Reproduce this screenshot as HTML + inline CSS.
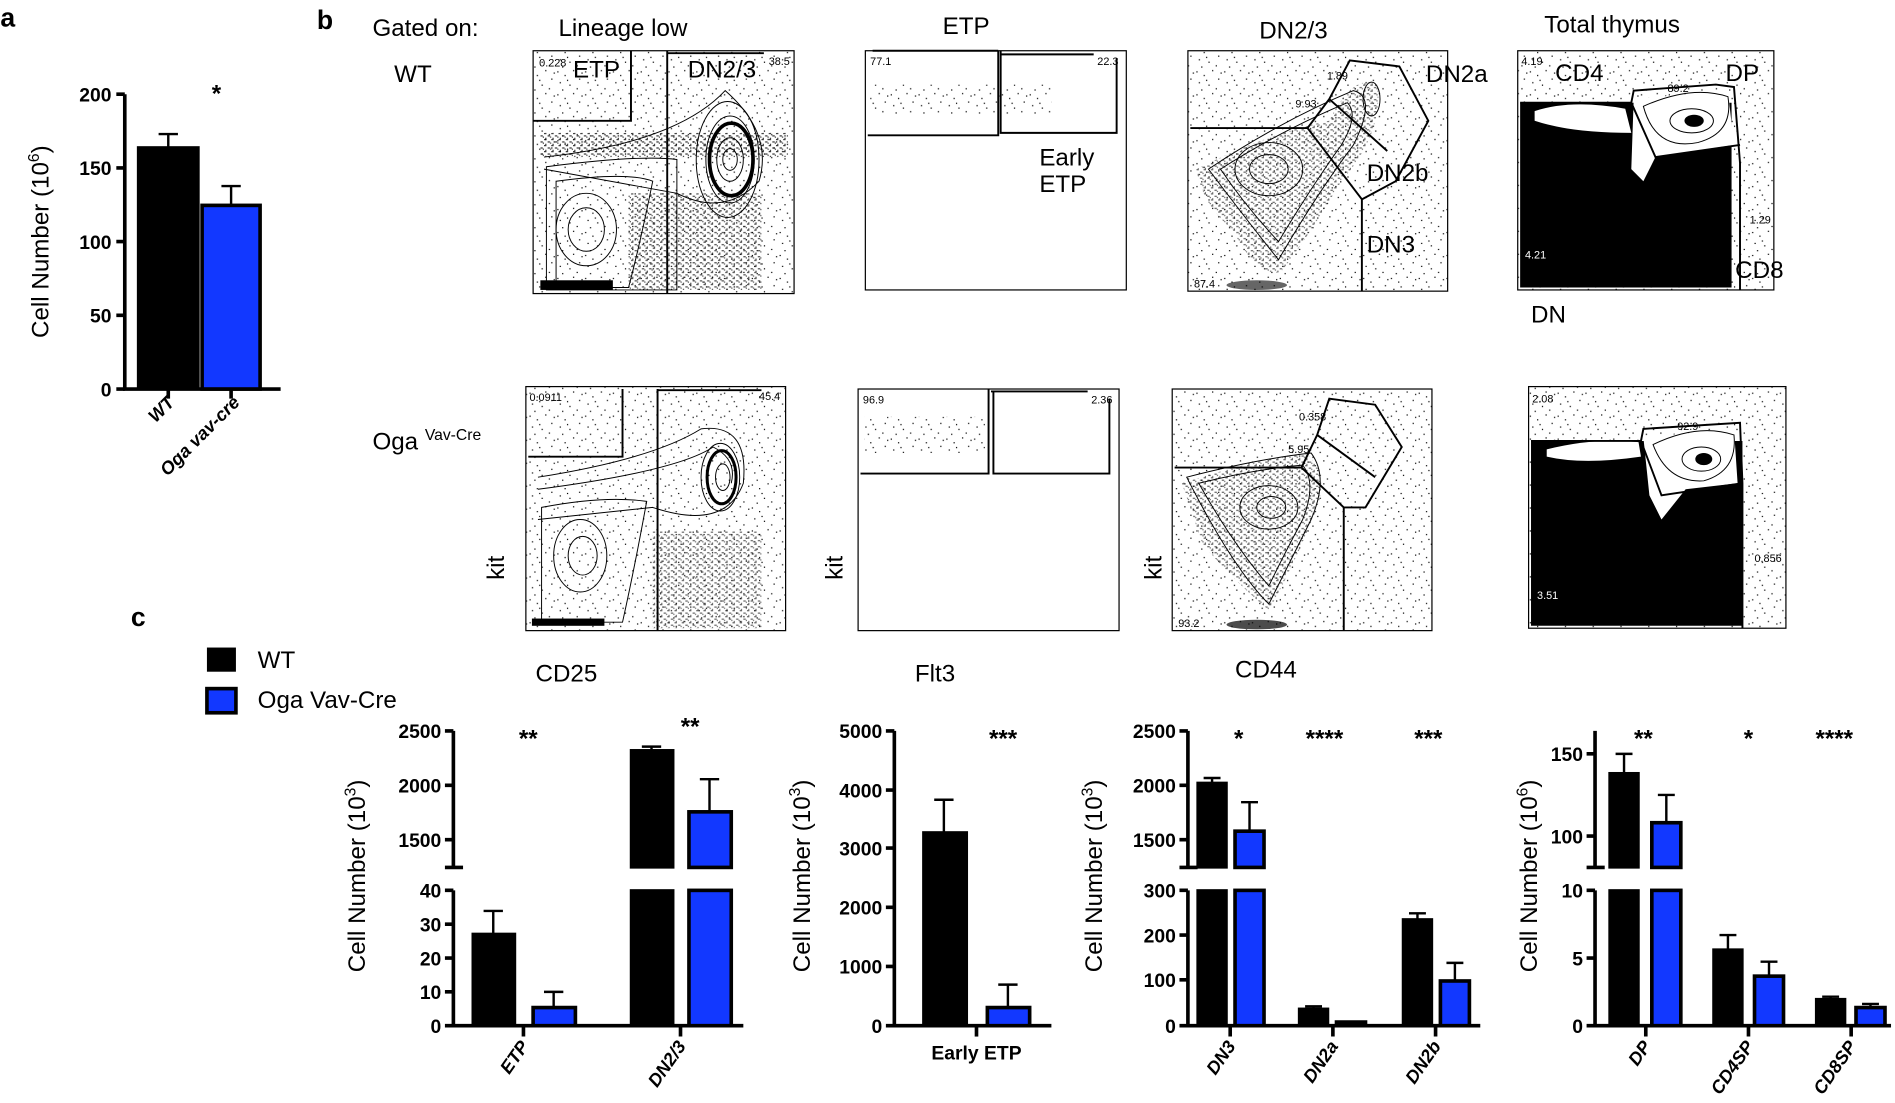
<!DOCTYPE html>
<html><head><meta charset="utf-8"><style>
html,body{margin:0;padding:0;background:#fff;width:1895px;height:1103px;overflow:hidden}
svg{display:block}
text{font-family:"Liberation Sans",sans-serif;fill:#000}
.tk{font-family:"Liberation Sans Narrow","Liberation Sans",sans-serif;font-weight:bold;font-size:16px}
.xl{font-family:"Liberation Sans",sans-serif;font-weight:bold;font-style:italic;font-size:15px}
.gl{font-family:"Liberation Sans Narrow","Liberation Sans",sans-serif;font-size:20px}
.sm{font-family:"Liberation Sans Narrow","Liberation Sans",sans-serif;font-size:9px}
.ax{stroke:#000;stroke-width:3;fill:none}
.bk{fill:#000;stroke:#000;stroke-width:2}
.bl{fill:#1238ff;stroke:#000;stroke-width:3}
.er{stroke:#000;stroke-width:2;fill:none}
.box{fill:none;stroke:#000;stroke-width:1}
.gate{fill:none;stroke:#000;stroke-width:1.6}
.ct{fill:none;stroke:#000;stroke-width:0.8}
</style></head><body>
<svg width="1895" height="1103" viewBox="0 0 1568 913" xmlns="http://www.w3.org/2000/svg">
<defs>
<pattern id="dots" width="23" height="19" patternUnits="userSpaceOnUse">
<rect x="1" y="2" width="1" height="1"/><rect x="7" y="5" width="1" height="1"/><rect x="14" y="1" width="1" height="1"/><rect x="19" y="8" width="1" height="1"/><rect x="3" y="11" width="1" height="1"/><rect x="11" y="13" width="1" height="1"/><rect x="17" y="16" width="1" height="1"/><rect x="5" y="17" width="1" height="1"/><rect x="21" y="3" width="1" height="1"/><rect x="9" y="9" width="1" height="1"/>
</pattern>
<pattern id="dense" width="6" height="5" patternUnits="userSpaceOnUse">
<rect x="0" y="0" width="2" height="1"/><rect x="3" y="2" width="2" height="1"/><rect x="1" y="4" width="1" height="1"/><rect x="5" y="3" width="1" height="1"/>
</pattern>
</defs>

<!-- Panel a -->
<text x="0" y="22" font-size="22" font-weight="bold">a</text>
<text x="175" y="84" font-size="20" font-weight="bold">*</text>
<path class="ax" d="M103 78 V322 H232"/>
<path class="ax" d="M96 78H103M96 139H103M96 200H103M96 261H103M96 322H103"/>
<text class="tk" x="92" y="84" text-anchor="end">200</text>
<text class="tk" x="92" y="145" text-anchor="end">150</text>
<text class="tk" x="92" y="206" text-anchor="end">100</text>
<text class="tk" x="92" y="267" text-anchor="end">50</text>
<text class="tk" x="92" y="328" text-anchor="end">0</text>
<path class="er" d="M139 122V111M131 111H147M191 170V154M183 154H199"/>
<rect class="bk" x="114" y="122" width="50" height="200"/>
<rect class="bl" x="167" y="170" width="48" height="152"/>
<path class="ax" d="M139 322V330M191 322V330"/>
<text x="40" y="200" font-size="20" text-anchor="middle" transform="rotate(-90 40 200)">Cell Number (10<tspan font-size="13" dy="-8">6</tspan><tspan dy="8">)</tspan></text>
<text class="xl" x="145" y="334" text-anchor="end" transform="rotate(-45 145 334)">WT</text>
<text class="xl" x="199" y="334" text-anchor="end" transform="rotate(-45 199 334)">Oga vav-cre</text>

<!-- Panel b labels -->
<text x="262" y="24" font-size="22" font-weight="bold">b</text>
<text class="gl" x="308" y="30">Gated on:</text>
<text class="gl" x="462" y="30">Lineage low</text>
<text class="gl" x="780" y="28">ETP</text>
<text class="gl" x="1042" y="32">DN2/3</text>
<text class="gl" x="1278" y="27">Total thymus</text>
<text class="gl" x="326" y="68">WT</text>
<text class="gl" x="308" y="372">Oga <tspan font-size="13" dy="-8">Vav-Cre</tspan></text>
<text class="gl" x="417" y="470" text-anchor="middle" transform="rotate(-90 417 470)">kit</text>
<text class="gl" x="697" y="470" text-anchor="middle" transform="rotate(-90 697 470)">kit</text>
<text class="gl" x="961" y="470" text-anchor="middle" transform="rotate(-90 961 470)">kit</text>
<text class="gl" x="443" y="564">CD25</text>
<text class="gl" x="757" y="564">Flt3</text>
<text class="gl" x="1022" y="561">CD44</text>

<!-- Row1 plot1 -->
<g>
<rect x="441" y="42" width="216" height="201" fill="url(#dots)"/>
<rect x="447" y="110" width="205" height="20" fill="url(#dense)" opacity="0.8"/>
<rect x="520" y="160" width="110" height="80" fill="url(#dense)" opacity="0.7"/>
<path class="ct" d="M452 138 Q530 128 560 132 L560 240 L452 240Z"/>
<path class="ct" d="M460 150 Q520 142 540 150 Q530 200 520 238 L460 238Z"/>
<ellipse class="ct" cx="485" cy="190" rx="25" ry="30"/><ellipse class="ct" cx="485" cy="190" rx="15" ry="18"/>
<path class="ct" d="M450 130 Q560 118 600 75 Q640 110 628 150 Q600 180 560 160 L450 140"/>
<ellipse class="ct" cx="602" cy="132" rx="26" ry="48"/><ellipse class="ct" cx="604" cy="132" rx="20" ry="36"/>
<ellipse cx="605" cy="132" rx="18" ry="30" fill="none" stroke="#000" stroke-width="3"/>
<ellipse class="ct" cx="604" cy="132" rx="11" ry="18"/><ellipse class="ct" cx="604" cy="132" rx="6" ry="9"/>
<rect x="447" y="232" width="60" height="8" fill="#000"/>
<rect class="box" x="441" y="42" width="216" height="201"/>
<path class="gate" d="M441 100H522V42M552 42V243M552 44H632"/>
<text class="sm" x="446" y="55">0.228</text><text class="sm" x="636" y="54">38.5</text>
<text class="gl" x="474" y="64">ETP</text><text class="gl" x="569" y="64">DN2/3</text>
</g>
<!-- Row1 plot2 -->
<g>
<rect x="720" y="70" width="150" height="25" fill="url(#dots)"/>
<rect class="box" x="716" y="42" width="216" height="198"/>
<path class="gate" d="M718 112H826V42M828 42V110H924V48M722 42H826M828 45H905"/>
<text class="sm" x="720" y="54">77.1</text><text class="sm" x="908" y="54">22.3</text>
<text class="gl" x="860" y="137">Early</text><text class="gl" x="860" y="159" font-size="18">ETP</text>
</g>
<!-- Row1 plot3 -->
<g>
<rect x="983" y="42" width="215" height="199" fill="url(#dots)"/>
<path d="M990 140 Q1050 110 1100 100 Q1120 60 1140 70 Q1145 110 1110 150 Q1080 200 1060 225 Q1040 230 1020 190 Q995 170 990 140Z" fill="url(#dense)" opacity="0.6"/>
<path class="ct" d="M1000 140 Q1060 100 1120 75 Q1140 80 1120 120 Q1090 160 1058 215 Q1030 180 1000 140Z"/>
<path class="ct" d="M1010 140 Q1060 108 1115 85 Q1125 95 1110 120 Q1085 155 1058 200 Q1030 170 1010 140Z"/>
<ellipse class="ct" cx="1050" cy="140" rx="28" ry="22"/><ellipse class="ct" cx="1050" cy="140" rx="16" ry="12"/>
<ellipse class="ct" cx="1135" cy="82" rx="7" ry="14"/>
<ellipse cx="1040" cy="236" rx="25" ry="4" fill="#000" opacity="0.6"/>
<rect class="box" x="983" y="42" width="215" height="199"/>
<path class="gate" d="M985 106H1082L1127 165V241M1082 106L1100 82L1117 50L1158 55L1182 100L1155 150L1127 165M1100 82L1148 125"/>
<text class="sm" x="1098" y="66">1.89</text><text class="sm" x="1072" y="89">9.93</text><text class="sm" x="988" y="238">87.4</text>
<text class="gl" x="1180" y="68">DN2a</text><text class="gl" x="1131" y="150">DN2b</text><text class="gl" x="1131" y="209">DN3</text>
</g>
<!-- Row1 plot4 -->
<g>
<rect x="1256" y="42" width="212" height="198" fill="url(#dots)"/>
<path d="M1258 85 H1433 V238 H1258Z" fill="#000"/>
<path d="M1270 92 Q1300 82 1345 90 L1350 110 Q1300 110 1270 100Z" fill="#fff"/>
<path d="M1352 82 L1430 75 L1435 120 L1370 130 L1360 150 L1350 140Z" fill="#fff"/>
<path class="ct" d="M1360 88 Q1400 70 1430 80 Q1435 110 1405 118 Q1370 125 1360 88Z"/><ellipse class="ct" cx="1400" cy="100" rx="18" ry="10"/><ellipse cx="1402" cy="100" rx="8" ry="5"/>
<rect class="box" x="1256" y="42" width="212" height="198"/>
<path class="gate" d="M1258 85H1350L1352 75L1420 70L1435 72L1440 135V240M1350 85L1370 130L1440 120"/>
<text class="sm" x="1259" y="54">4.19</text><text class="sm" x="1380" y="76">89.2</text><text class="sm" x="1448" y="185">1.29</text><text class="sm" x="1262" y="214" style="fill:#fff">4.21</text>
<text class="gl" x="1287" y="67">CD4</text><text class="gl" x="1428" y="67">DP</text><text class="gl" x="1436" y="230">CD8</text><text class="gl" x="1267" y="267">DN</text>
</g>

<!-- Row2 plot1 -->
<g>
<rect x="435" y="320" width="215" height="202" fill="url(#dots)"/>
<rect x="540" y="440" width="90" height="80" fill="url(#dense)" opacity="0.6"/>
<path class="ct" d="M445 395 Q540 380 580 355 Q620 350 615 400 Q600 440 540 420 L445 430"/>
<path class="ct" d="M445 405 Q560 390 590 370 Q610 380 605 400"/>
<ellipse class="ct" cx="596" cy="395" rx="16" ry="28"/><ellipse cx="597" cy="395" rx="12" ry="22" fill="none" stroke="#000" stroke-width="2.5"/><ellipse class="ct" cx="598" cy="395" rx="6" ry="11"/>
<path class="ct" d="M448 420 Q500 410 535 415 Q525 470 515 515 L448 515Z"/>
<ellipse class="ct" cx="480" cy="460" rx="22" ry="30"/><ellipse class="ct" cx="482" cy="460" rx="12" ry="16"/>
<rect x="440" y="512" width="60" height="6" fill="#000"/>
<rect class="box" x="435" y="320" width="215" height="202"/>
<path class="gate" d="M437 378H515V322M544 322V522M544 323H630"/>
<text class="sm" x="438" y="332">0.0911</text><text class="sm" x="628" y="331">45.4</text>
</g>
<!-- Row2 plot2 -->
<g>
<rect x="715" y="345" width="100" height="30" fill="url(#dots)"/>
<rect class="box" x="710" y="322" width="216" height="200"/>
<path class="gate" d="M712 392H818V322M822 324V392H918V330M820 324H900"/>
<text class="sm" x="714" y="334">96.9</text><text class="sm" x="903" y="334">2.36</text>
</g>
<!-- Row2 plot3 -->
<g>
<rect x="970" y="322" width="215" height="200" fill="url(#dots)"/>
<path d="M978 400 Q1040 380 1080 375 Q1100 390 1090 420 Q1070 470 1050 505 Q1020 480 995 450Z" fill="url(#dense)" opacity="0.6"/>
<path class="ct" d="M982 395 Q1040 380 1085 375 Q1100 395 1085 430 Q1065 470 1050 500 Q1020 470 982 395Z"/>
<path class="ct" d="M992 400 Q1040 388 1078 385 Q1090 400 1078 430 Q1062 460 1050 485 Q1020 450 992 400Z"/>
<ellipse class="ct" cx="1050" cy="420" rx="24" ry="18"/><ellipse class="ct" cx="1052" cy="420" rx="12" ry="9"/>
<ellipse cx="1040" cy="517" rx="25" ry="4" fill="#000" opacity="0.7"/>
<rect class="box" x="970" y="322" width="215" height="200"/>
<path class="gate" d="M972 387H1077L1112 420V522M1077 387L1090 360L1100 330L1138 335L1160 370L1130 420L1112 420M1090 360L1138 395"/>
<text class="sm" x="1075" y="348">0.358</text><text class="sm" x="1066" y="375">5.95</text><text class="sm" x="975" y="519">93.2</text>
</g>
<!-- Row2 plot4 -->
<g>
<rect x="1265" y="320" width="213" height="200" fill="url(#dots)"/>
<path d="M1267 365 H1442 V518 H1267Z" fill="#000"/>
<path d="M1280 372 Q1320 362 1356 366 L1358 378 Q1310 385 1280 378Z" fill="#fff"/>
<path d="M1360 362 L1435 355 L1438 400 L1395 405 L1375 430 L1365 410Z" fill="#fff"/>
<path class="ct" d="M1368 368 Q1405 350 1435 360 Q1438 390 1410 398 Q1380 400 1368 368Z"/><ellipse class="ct" cx="1408" cy="380" rx="16" ry="10"/><ellipse cx="1410" cy="380" rx="7" ry="5"/>
<rect class="box" x="1265" y="320" width="213" height="200"/>
<path class="gate" d="M1267 365H1358L1360 355L1440 350L1442 400V520M1358 365L1375 410L1442 400"/>
<text class="sm" x="1268" y="333">2.08</text><text class="sm" x="1388" y="356">92.9</text><text class="sm" x="1452" y="465">0.856</text><text class="sm" x="1272" y="496" style="fill:#fff">3.51</text>
</g>

<!-- Panel c -->
<text x="108" y="518" font-size="22" font-weight="bold">c</text>
<rect x="171" y="536" width="24" height="20" fill="#000"/>
<text class="gl" x="213" y="553" font-size="18">WT</text>
<rect x="171" y="570" width="24" height="20" fill="#1238ff" stroke="#000" stroke-width="3"/>
<text class="gl" x="213" y="586" font-size="18">Oga Vav-Cre</text>

<!-- Chart 1 -->
<g>
<text x="302" y="725" font-size="20" text-anchor="middle" transform="rotate(-90 302 725)">Cell Number (10<tspan font-size="13" dy="-8">3</tspan><tspan dy="8">)</tspan></text>
<path class="ax" d="M375 605V718M368 718H383M375 737V849H615M368 605H375M368 650H375M368 695H375M368 737H375M368 765H375M368 793H375M368 821H375M368 849H375"/>
<text class="tk" x="365" y="611" text-anchor="end">2500</text><text class="tk" x="365" y="656" text-anchor="end">2000</text><text class="tk" x="365" y="701" text-anchor="end">1500</text>
<text class="tk" x="365" y="743" text-anchor="end">40</text><text class="tk" x="365" y="771" text-anchor="end">30</text><text class="tk" x="365" y="799" text-anchor="end">20</text><text class="tk" x="365" y="827" text-anchor="end">10</text><text class="tk" x="365" y="855" text-anchor="end">0</text>
<path class="er" d="M408 773V754M400 754H416M458 834V821M450 821H466M539 621V618M531 618H547M587 672V645M579 645H595"/>
<rect class="bk" x="391" y="773" width="35" height="76"/>
<rect class="bl" x="441" y="834" width="35" height="15"/>
<rect class="bk" x="522" y="621" width="35" height="97"/><rect class="bk" x="522" y="737" width="35" height="112"/>
<rect class="bl" x="570" y="672" width="35" height="46"/><rect class="bl" x="570" y="737" width="35" height="112"/>
<path class="ax" d="M433 849V858M563 849V858"/>
<text x="437" y="618" font-size="20" font-weight="bold" text-anchor="middle">**</text>
<text x="571" y="608" font-size="20" font-weight="bold" text-anchor="middle">**</text>
<text class="xl" x="438" y="866" text-anchor="end" transform="rotate(-55 438 866)">ETP</text>
<text class="xl" x="568" y="866" text-anchor="end" transform="rotate(-55 568 866)">DN2/3</text>
</g>

<!-- Chart 2 -->
<g>
<text x="670" y="725" font-size="20" text-anchor="middle" transform="rotate(-90 670 725)">Cell Number (10<tspan font-size="13" dy="-8">3</tspan><tspan dy="8">)</tspan></text>
<path class="ax" d="M740 605V849H870M733 605H740M733 654H740M733 702H740M733 751H740M733 800H740M733 849H740"/>
<text class="tk" x="730" y="611" text-anchor="end">5000</text><text class="tk" x="730" y="660" text-anchor="end">4000</text><text class="tk" x="730" y="708" text-anchor="end">3000</text><text class="tk" x="730" y="757" text-anchor="end">2000</text><text class="tk" x="730" y="806" text-anchor="end">1000</text><text class="tk" x="730" y="855" text-anchor="end">0</text>
<path class="er" d="M781 689V662M773 662H789M834 834V815M826 815H842"/>
<rect class="bk" x="764" y="689" width="36" height="160"/>
<rect class="bl" x="817" y="834" width="35" height="15"/>
<path class="ax" d="M808 849V858"/>
<text x="830" y="618" font-size="20" font-weight="bold" text-anchor="middle">***</text>
<text class="tk" x="808" y="877" text-anchor="middle" font-size="17">Early ETP</text>
</g>

<!-- Chart 3 -->
<g>
<text x="912" y="725" font-size="20" text-anchor="middle" transform="rotate(-90 912 725)">Cell Number (10<tspan font-size="13" dy="-8">3</tspan><tspan dy="8">)</tspan></text>
<path class="ax" d="M983 605V718M976 718H991M983 737V849H1225M976 605H983M976 650H983M976 695H983M976 737H983M976 774H983M976 811H983M976 849H983"/>
<text class="tk" x="973" y="611" text-anchor="end">2500</text><text class="tk" x="973" y="656" text-anchor="end">2000</text><text class="tk" x="973" y="701" text-anchor="end">1500</text>
<text class="tk" x="973" y="743" text-anchor="end">300</text><text class="tk" x="973" y="780" text-anchor="end">200</text><text class="tk" x="973" y="817" text-anchor="end">100</text><text class="tk" x="973" y="855" text-anchor="end">0</text>
<path class="er" d="M1003 648V644M996 644H1010M1034 688V664M1027 664H1041M1087 835V833M1080 833H1094M1173 761V756M1166 756H1180M1204 812V797M1197 797H1211"/>
<rect class="bk" x="991" y="648" width="24" height="70"/><rect class="bk" x="991" y="737" width="24" height="112"/>
<rect class="bl" x="1022" y="688" width="24" height="30"/><rect class="bl" x="1022" y="737" width="24" height="112"/>
<rect class="bk" x="1075" y="835" width="24" height="14"/>
<rect class="bl" x="1106" y="846" width="24" height="3"/>
<rect class="bk" x="1161" y="761" width="24" height="88"/>
<rect class="bl" x="1192" y="812" width="24" height="37"/>
<path class="ax" d="M1018 849V858M1103 849V858M1188 849V858"/>
<text x="1025" y="618" font-size="20" font-weight="bold" text-anchor="middle">*</text>
<text x="1096" y="618" font-size="20" font-weight="bold" text-anchor="middle">****</text>
<text x="1182" y="618" font-size="20" font-weight="bold" text-anchor="middle">***</text>
<text class="xl" x="1023" y="866" text-anchor="end" transform="rotate(-55 1023 866)">DN3</text>
<text class="xl" x="1108" y="866" text-anchor="end" transform="rotate(-55 1108 866)">DN2a</text>
<text class="xl" x="1193" y="866" text-anchor="end" transform="rotate(-55 1193 866)">DN2b</text>
</g>

<!-- Chart 4 -->
<g>
<text x="1272" y="725" font-size="20" text-anchor="middle" transform="rotate(-90 1272 725)">Cell Number (10<tspan font-size="13" dy="-8">6</tspan><tspan dy="8">)</tspan></text>
<path class="ax" d="M1320 605V718M1313 718H1328M1320 737V849H1565M1313 624H1320M1313 692H1320M1313 737H1320M1313 793H1320M1313 849H1320"/>
<text class="tk" x="1310" y="630" text-anchor="end">150</text><text class="tk" x="1310" y="698" text-anchor="end">100</text>
<text class="tk" x="1310" y="743" text-anchor="end">10</text><text class="tk" x="1310" y="799" text-anchor="end">5</text><text class="tk" x="1310" y="855" text-anchor="end">0</text>
<path class="er" d="M1344 640V624M1337 624H1351M1379 681V658M1372 658H1386M1430 786V774M1423 774H1437M1464 808V796M1457 796H1471M1515 827V825M1508 825H1522M1548 834V831M1541 831H1555"/>
<rect class="bk" x="1332" y="640" width="24" height="78"/><rect class="bk" x="1332" y="737" width="24" height="112"/>
<rect class="bl" x="1367" y="681" width="24" height="37"/><rect class="bl" x="1367" y="737" width="24" height="112"/>
<rect class="bk" x="1418" y="786" width="24" height="63"/>
<rect class="bl" x="1452" y="808" width="24" height="41"/>
<rect class="bk" x="1503" y="827" width="24" height="22"/>
<rect class="bl" x="1536" y="834" width="24" height="15"/>
<path class="ax" d="M1362 849V858M1447 849V858M1532 849V858"/>
<text x="1360" y="618" font-size="20" font-weight="bold" text-anchor="middle">**</text>
<text x="1447" y="618" font-size="20" font-weight="bold" text-anchor="middle">*</text>
<text x="1518" y="618" font-size="20" font-weight="bold" text-anchor="middle">****</text>
<text class="xl" x="1367" y="866" text-anchor="end" transform="rotate(-55 1367 866)">DP</text>
<text class="xl" x="1452" y="866" text-anchor="end" transform="rotate(-55 1452 866)">CD4SP</text>
<text class="xl" x="1537" y="866" text-anchor="end" transform="rotate(-55 1537 866)">CD8SP</text>
</g>
</svg>
</body></html>
